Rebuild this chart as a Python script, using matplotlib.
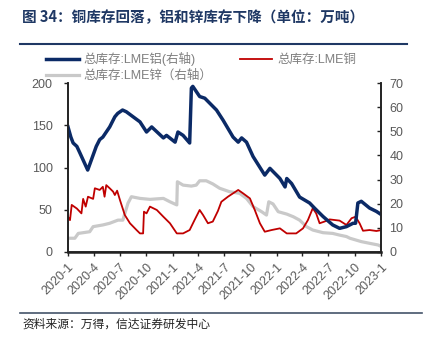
import matplotlib
matplotlib.use("Agg")
import matplotlib.pyplot as plt
import pandas as pd
from matplotlib.lines import Line2D

plt.rcParams['font.family'] = ['Liberation Sans', 'Noto Sans CJK SC', 'DejaVu Sans']

# LME aluminium (plotted against left scale)
al_dates = ["2020-01-01","2020-01-11","2020-01-19","2020-02-01","2020-02-12","2020-03-10",
            "2020-04-09","2020-04-21","2020-05-02","2020-05-26","2020-06-13","2020-06-23",
            "2020-07-10","2020-07-23","2020-09-09","2020-10-02","2020-10-20","2020-11-30",
            "2020-12-11","2021-01-10","2021-01-20","2021-02-07","2021-03-02","2021-03-08",
            "2021-03-13","2021-04-06","2021-04-24","2021-06-04","2021-06-27","2021-08-01",
            "2021-08-19","2021-08-31","2021-09-17","2021-10-10","2021-11-20","2021-12-08",
            "2022-01-12","2022-01-30","2022-02-05","2022-02-22","2022-03-22","2022-04-26",
            "2022-05-13","2022-06-12","2022-07-16","2022-08-09","2022-09-02","2022-09-25",
            "2022-10-04","2022-10-12","2022-10-24","2022-11-22","2022-12-16","2023-01-03"]
al_vals = [148,136,129,125,117,97,125,133,136,148,160,164,168,166,154,142,148,135,
           138,130,142,138,129,194,196,184,182,168,156,136,130,135,130,113,91,99,
           87,77,87,81,65,58,52,42,32,28,30,34,34,58,60,52,48,44]

# LME copper (right scale)
cu_dates = ["2020-01-01","2020-01-08","2020-01-14","2020-02-01","2020-02-17","2020-02-23",
            "2020-03-03","2020-03-11","2020-03-29","2020-04-04","2020-04-21","2020-05-02",
            "2020-05-08","2020-05-14","2020-05-26","2020-06-07","2020-06-13","2020-06-21",
            "2020-07-01","2020-07-18","2020-08-05","2020-08-28","2020-09-09","2020-09-20",
            "2020-09-23","2020-10-02","2020-10-14","2020-11-07","2020-11-30","2020-12-23",
            "2021-01-16","2021-02-07","2021-03-02","2021-03-19","2021-04-06","2021-04-18",
            "2021-05-05","2021-05-22","2021-06-09","2021-06-21","2021-07-14","2021-08-01",
            "2021-08-19","2021-09-05","2021-09-29","2021-10-16","2021-11-03","2021-11-20",
            "2021-12-14","2022-01-12","2022-02-05","2022-03-10","2022-04-03","2022-04-20",
            "2022-05-07","2022-05-19","2022-05-31","2022-06-17","2022-07-05","2022-08-09",
            "2022-09-02","2022-09-20","2022-10-04","2022-10-18","2022-10-30","2022-11-22",
            "2022-12-16","2023-01-03"]
cu_vals = [14.6,13.2,19.5,18.0,16.0,22.0,18.8,22.9,22.0,26.4,25.7,27.0,
           22.9,27.7,26.4,25.0,23.6,25.4,21.5,15.3,11.9,9.1,7.7,7.7,
           16.7,16.0,18.8,17.4,14.6,11.9,7.7,7.7,9.1,13.2,17.4,15.3,
           11.9,12.6,17.0,20.8,22.9,24.3,25.7,24.3,22.2,17.4,11.9,8.4,
           9.1,9.8,7.7,7.7,9.8,13.2,18.1,16.0,11.9,12.6,13.5,13.0,
           11.2,14.0,14.6,11.9,8.8,9.1,8.7,9.1]

# LME zinc (right scale)
zn_dates = ["2020-01-01","2020-01-25","2020-02-06","2020-03-17","2020-03-29","2020-05-02",
            "2020-05-26","2020-06-24","2020-07-11","2020-07-29","2020-08-10","2020-09-09",
            "2020-10-14","2020-11-30","2020-12-23","2021-01-16","2021-01-18","2021-02-07",
            "2021-03-08","2021-03-25","2021-04-06","2021-04-29","2021-05-22","2021-06-15",
            "2021-07-19","2021-08-24","2021-09-17","2021-10-10","2021-11-09","2021-11-26",
            "2021-12-04","2021-12-19","2022-01-06","2022-02-05","2022-02-28","2022-03-22",
            "2022-04-15","2022-05-07","2022-06-12","2022-07-16","2022-08-09","2022-09-02",
            "2022-09-14","2022-10-24","2022-11-22","2022-12-22","2023-01-03"]
zn_vals = [5.7,5.7,7.7,8.4,10.5,11.2,11.9,13.2,13.2,20.2,22.9,22.2,
           21.8,22.2,20.8,19.5,29.1,27.7,27.3,27.7,29.5,29.5,28.2,26.4,
           25.0,24.3,22.2,18.8,16.7,15.3,20.8,19.9,16.7,15.7,14.6,13.2,
           10.5,9.1,8.0,7.7,7.0,6.4,5.7,4.3,3.6,2.9,2.2]

tick_dates = ["2020-01-01","2020-04-01","2020-07-01","2020-10-01","2021-01-01","2021-04-01",
              "2021-07-01","2021-10-01","2022-01-01","2022-04-01","2022-07-01","2022-10-01",
              "2023-01-01"]
tick_labels = ["2020-1","2020-4","2020-7","2020-10","2021-1","2021-4","2021-7","2021-10",
               "2022-1","2022-4","2022-7","2022-10","2023-1"]

title = "图 34：铜库存回落，铝和锌库存下降（单位：万吨）"
source = "资料来源：万得，信达证券研发中心"
lab_al = "总库存:LME铝(右轴)"
lab_cu = "总库存:LME铜"
lab_zn = "总库存:LME锌（右轴）"

BLUE = "#0b2a66"
RED = "#c00000"
GREY = "#c9c9c9"
TXT = "#595959"
NAVY = "#1f3864"

fig = plt.figure(figsize=(4.27, 3.39), dpi=100)
ax = fig.add_axes([68/427, 1-252/339, (381-68)/427, (252-83)/339])
ax2 = ax.twinx()

ax2.plot(pd.to_datetime(zn_dates), zn_vals, color=GREY, lw=2.3)
ax2.plot(pd.to_datetime(cu_dates), cu_vals, color=RED, lw=1.3)
ax.plot(pd.to_datetime(al_dates), al_vals, color=BLUE, lw=2.5)
ax.set_zorder(ax2.get_zorder() + 1)
ax.patch.set_visible(False)

ax.set_ylim(0, 200)
ax2.set_ylim(0, 70)
ax.set_yticks([0, 50, 100, 150, 200])
ax2.set_yticks(range(0, 71, 10))
ax.set_xlim(pd.Timestamp("2020-01-01"), pd.Timestamp("2023-01-01"))
ax.set_xticks(pd.to_datetime(tick_dates))
ax.set_xticklabels(tick_labels, rotation=45, ha='right', va='top', rotation_mode='anchor')

for a in (ax, ax2):
    a.spines['top'].set_visible(False)
    for s in ('left', 'right', 'bottom'):
        a.spines[s].set_color('#222222')
        a.spines[s].set_linewidth(1.2)
    a.tick_params(colors=TXT, labelsize=9, length=3, width=1)
    a.tick_params(axis='both', color='#222222')
ax.spines['bottom'].set_linewidth(1.8)
ax.tick_params(axis='y', pad=8)
ax2.tick_params(axis='y', direction='in', pad=6)

handles = [Line2D([], [], color=BLUE, lw=2.5),
           Line2D([], [], color=GREY, lw=2.3),
           Line2D([], [], color=RED, lw=1.3)]
leg = fig.legend(handles, [lab_al, lab_zn, lab_cu], ncol=2, loc='upper left',
                 bbox_to_anchor=(46/427, 1-52/339), frameon=False, fontsize=9,
                 handlelength=2.6, handletextpad=0.4, columnspacing=2.2,
                 labelspacing=0.3, borderaxespad=0, borderpad=0)
for t in leg.get_texts():
    t.set_color('#7f7f7f')

fig.text(22/427, 1-17/339, title, fontsize=10.5, fontweight='bold', color=NAVY,
         ha='left', va='center', family=['Noto Sans CJK SC', 'DejaVu Sans'])
fig.add_artist(Line2D([20/427, 407/427], [1-44/339, 1-44/339], color=NAVY, lw=1.5))
fig.add_artist(Line2D([20/427, 422/427], [1-313/339, 1-313/339], color='#44546a', lw=1.2))
fig.text(22/427, 1-324/339, source, fontsize=8.5, color='#222222', ha='left', va='center',
         family=['Noto Sans CJK SC', 'DejaVu Sans'])

fig.savefig("out.png", dpi=100)
